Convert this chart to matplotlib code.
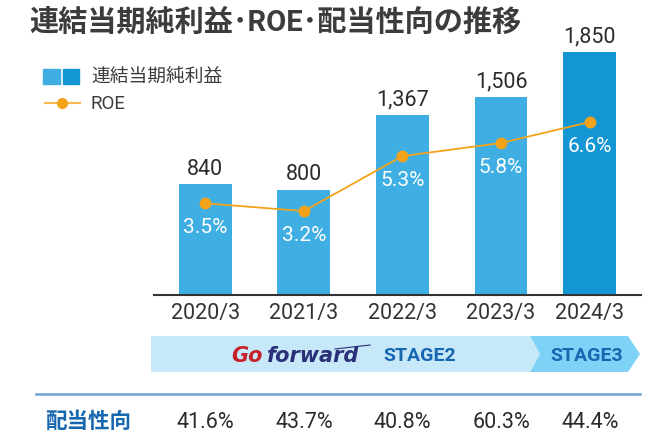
import matplotlib
matplotlib.use("Agg")
import matplotlib.pyplot as plt
from matplotlib.patches import Polygon, Rectangle
from matplotlib.lines import Line2D
import matplotlib.transforms as mtransforms

plt.rcParams['font.family'] = ['Roboto', 'Noto Sans CJK JP', 'DejaVu Sans']

# ====== data ======
years = ['2020/3', '2021/3', '2022/3', '2023/3', '2024/3']
x_pos = [0, 1, 2, 3, 3.9]          # last bar sits a bit closer in the original
net_income = [840, 800, 1367, 1506, 1850]
roe = [3.5, 3.2, 5.3, 5.8, 6.6]
payout = ['41.6%', '43.7%', '40.8%', '60.3%', '44.4%']

BAR = '#3eaee3'
BAR_LAST = '#1496d4'
ORANGE = '#f5a21b'
TEXT = '#333333'
BLUE_TXT = '#1766b0'

W, H = 656, 439
fig = plt.figure(figsize=(W / 100, H / 100), dpi=100)

# overlay in pixel coords for title, legend, banner
ov = fig.add_axes([0, 0, 1, 1])
ov.set_xlim(0, W)
ov.set_ylim(H, 0)
ov.axis('off')

# main axes (pixel box: x 154..641, y 30..296)
ax = fig.add_axes([154 / W, 1 - 296 / H, (641 - 154) / W, (296 - 30) / H])
ax.patch.set_visible(False)
colors = [BAR] * 4 + [BAR_LAST]
ax.bar(x_pos, net_income, width=0.535, color=colors, zorder=2)
ax.set_xlim(-0.52, 4.42)
ax.set_ylim(0, 2022)
for s in ['top', 'right', 'left']:
    ax.spines[s].set_visible(False)
ax.spines['bottom'].set_color(TEXT)
ax.spines['bottom'].set_linewidth(1.5)
ax.set_yticks([])
ax.set_xticks(x_pos)
ax.set_xticklabels(years, fontsize=15.5, color=TEXT)
ax.tick_params(axis='x', length=0, pad=5)

for x, v in zip(x_pos, net_income):
    ax.annotate(f'{v:,}', (x, v), xytext=(0, 4), textcoords='offset points',
                ha='center', va='bottom', fontsize=15.5, color='#2b2b2b')

ax2 = ax.twinx()
ax2.set_ylim(0, 10.15)
ax2.axis('off')
ax2.plot(x_pos, roe, color=ORANGE, lw=1.3, marker='o', markersize=7.5, zorder=3)
for x, r in zip(x_pos, roe):
    ax2.annotate(f'{r:.1f}%', (x, r), xytext=(0, -17), textcoords='offset points',
                 ha='center', va='center', fontsize=15, color='white')

# payout row, aligned with bars
tr = mtransforms.blended_transform_factory(ax.transData, fig.transFigure)
for x, p in zip(x_pos, payout):
    fig.text(x, 1 - 423 / H, p, transform=tr, ha='center', va='center',
             fontsize=15.5, color='#2b2b2b')

ov.text(29, 23, '連結当期純利益･ROE･配当性向の推移', fontsize=21, fontweight='bold',
        color='#3c3c3c', ha='left', va='center')

# legend
ov.add_patch(Rectangle((43, 70), 17, 15, color=BAR))
ov.add_patch(Rectangle((63, 70), 16, 15, color=BAR_LAST))
ov.text(91, 77, '連結当期純利益', fontsize=13.5, color='#3c3c3c', va='center')
ov.add_line(Line2D([45, 80], [104, 104], color='#f9b94d', lw=1.5))
ov.plot([62], [104], 'o', color=ORANGE, markersize=7)
ov.text(91, 104, 'ROE', fontsize=13.5, color='#3c3c3c', va='center')

# stage banner
ov.add_patch(Polygon([(151, 337), (530, 337), (540, 355), (530, 373), (151, 373)],
                     closed=True, color='#c6e8f8', lw=0))
ov.add_patch(Polygon([(530, 337), (628, 337), (640, 355), (628, 373), (530, 373), (540, 355)],
                     closed=True, color='#7dd2f6', lw=0))
ov.text(231, 356, 'Go', fontsize=15, fontweight='bold', style='italic',
        color='#c8202a', va='center', ha='left', family='DejaVu Sans')
ov.text(267, 356, 'forward', fontsize=15, fontweight='bold', style='italic',
        color='#2b2f78', va='center', ha='left', family='DejaVu Sans')
ov.add_line(Line2D([335, 370], [350, 346], color='#2b2f78', lw=0.8))
ov.text(420, 356, 'STAGE2', fontsize=14, fontweight='bold', color=BLUE_TXT,
        ha='center', va='center')
ov.text(587, 356, 'STAGE3', fontsize=14, fontweight='bold', color=BLUE_TXT,
        ha='center', va='center')

# payout row header
ov.add_line(Line2D([36, 640], [395, 395], color='#6b9fd3', lw=1.8))
ov.text(88, 422, '配当性向', fontsize=15.5, fontweight='bold', color=BLUE_TXT,
        ha='center', va='center')

fig.savefig('out.png', dpi=100)
